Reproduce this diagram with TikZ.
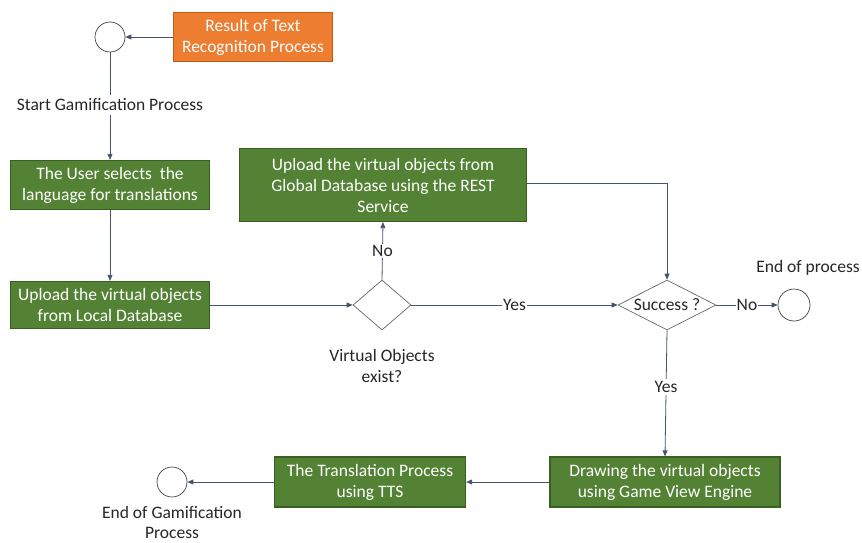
\documentclass[tikz,border=0pt]{standalone}
\usepackage{fontspec}
\setmainfont{Carlito}
\usetikzlibrary{shapes.geometric,arrows.meta}
\definecolor{gbox}{HTML}{548235}
\definecolor{gborder}{HTML}{3A5F23}
\definecolor{obox}{HTML}{ED7D31}
\definecolor{oborder}{HTML}{C55A11}
\definecolor{lin}{HTML}{44546A}
\begin{document}
\begin{tikzpicture}[x=1pt,y=-1pt,
  font=\fontsize{17.5}{21}\selectfont,
  gstep/.style={draw=gborder,line width=1.2pt,fill=gbox,text=white,align=center,inner sep=2pt},
  ostep/.style={draw=oborder,line width=1.2pt,fill=obox,text=white,align=center,inner sep=2pt},
  term/.style={draw=black!75,circle,minimum size=30pt,inner sep=0pt,line width=0.7pt},
  dec/.style={draw=black!60,diamond,inner sep=0pt,line width=0.7pt},
  lbl/.style={align=center,text=black!85},
  conn/.style={draw=lin,line width=0.8pt,-{Triangle[length=6pt,width=5pt]}},
  plain/.style={draw=lin,line width=0.8pt},
  elbl/.style={fill=white,inner sep=1pt,text=black!85}
]
\useasboundingbox (0,0) rectangle (862,543);
\node[term] (start) at (110,37) {};
\node[ostep,minimum width=159pt,minimum height=49pt] (res) at (253,37) {Result of Text\\Recognition Process};
\node[lbl] (startlbl) at (110,105) {Start Gamification Process};
\node[gstep,minimum width=199pt,minimum height=49pt] (sel) at (110,185) {The User selects\ \ the\\language for translations};
\node[gstep,minimum width=199pt,minimum height=47pt] (loc) at (110,305) {Upload the virtual objects\\from Local Database};
\node[dec,minimum width=58pt,minimum height=50pt] (vo) at (382,305) {};
\node[lbl] (volbl) at (382,366) {Virtual Objects\\exist?};
\node[gstep,minimum width=287pt,minimum height=73pt] (glob) at (383,185) {Upload the virtual objects from\\Global Database using the REST\\Service};
\node[dec,minimum width=98pt,minimum height=50pt] (succ) at (667,305) {};
\node[lbl] at (667,305) {Success ?};
\node[term,minimum size=32pt] (endp) at (794,305) {};
\node[lbl] (endplbl) at (808,268) {End of process};
\node[gstep,minimum width=230pt,minimum height=50pt] (draw) at (665,482) {Drawing the virtual objects\\using Game View Engine};
\node[gstep,minimum width=191pt,minimum height=50pt] (tts) at (370,482) {The Translation Process\\using TTS};
\node[term] (endg) at (172,482) {};
\node[lbl,font=\fontsize{17.5}{20}\selectfont] (endglbl) at (172,522) {End of Gamification\\Process};

\draw[conn] (res) -- (start);
\draw[plain] (start) -- (startlbl);
\draw[conn] (startlbl) -- (sel);
\draw[conn] (sel) -- (loc);
\draw[conn] (loc) -- (vo);
\draw[conn] (vo.north) -- node[elbl]{No} (glob.south);
\draw[conn] (vo.east) -- node[elbl]{Yes} (succ.west);
\draw[conn] (glob.east |- 0,183) -| (succ.north);
\draw[conn] (succ.east) -- node[elbl]{No} (endp.west);
\draw[conn] (succ.south) -- node[elbl,inner sep=2pt,pos=0.45]{Yes} (draw.north);
\draw[conn] (draw) -- (tts);
\draw[conn] (tts) -- (endg);
\end{tikzpicture}
\end{document}
